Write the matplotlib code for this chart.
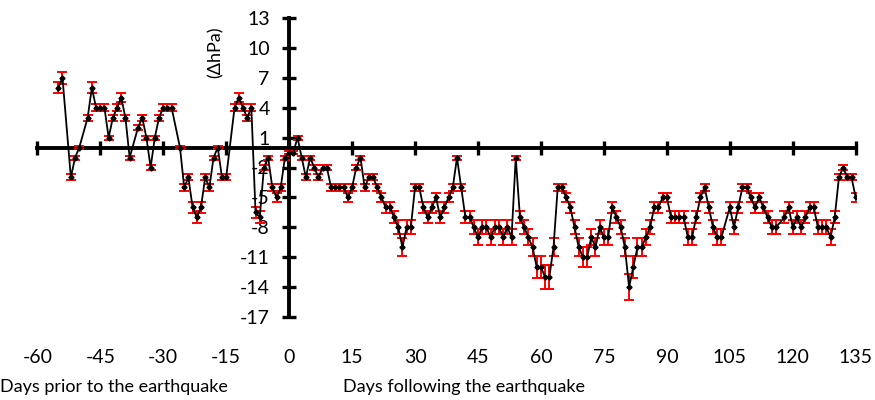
import matplotlib
matplotlib.use("Agg")
import matplotlib.pyplot as plt

# ---- data ----
pre_days = [-55, -54, -52, -51, -50, -48, -47, -46, -45, -44, -43, -42, -41, -40, -39, -38,
            -36, -35, -34, -33, -32, -31, -30, -29, -28,
            -26, -25, -24, -23, -22, -21, -20, -19, -18, -17, -16, -15,
            -13, -12, -11, -10, -9, -8, -7, -6, -5, -4, -3, -2, -1]
pre_vals = [6, 7, -3, -1, 0, 3, 6, 4, 4, 4, 1, 3, 4, 5, 3, -1,
            2, 3, 1, -2, 1, 3, 4, 4, 4,
            0, -4, -3, -6, -7, -6, -3, -4, -1, 0, -3, -3,
            4, 5, 4, 3, 4, -6.5, -7, -2, -1, -4, -5, -4, -1]
pre_err = [0.55, 0.6, 0.3, 0.2, 0.15, 0.3, 0.55, 0.35, 0.35, 0.35, 0.2, 0.3, 0.35, 0.45, 0.3, 0.2,
           0.25, 0.3, 0.2, 0.25, 0.2, 0.3, 0.35, 0.35, 0.35,
           0.15, 0.35, 0.3, 0.55, 0.6, 0.55, 0.3, 0.35, 0.2, 0.15, 0.3, 0.3,
           0.35, 0.45, 0.35, 0.3, 0.35, 0.55, 0.6, 0.25, 0.2, 0.35, 0.45, 0.35, 0.2]

post_days = list(range(0, 104)) + [105, 106, 107, 108, 109, 110, 111, 112, 113, 114, 115, 116] + \
            list(range(118, 136))
post_vals = [-0.5, -0.5, 1, -1, -3, -1, -2, -3, -2, -2,
             -4, -4, -4, -4, -5, -4, -2, -1, -4, -3,
             -3, -4, -5, -6, -6, -7, -8, -10, -8, -8,
             -4, -4, -6, -7, -6, -5, -7, -6, -5, -4,
             -1, -4, -7, -7, -8, -9, -8, -8, -9, -8,
             -8, -9, -8, -9, -1, -7, -8, -9, -10, -12,
             -12, -13, -13, -10, -4, -4, -5, -6, -8, -10,
             -11, -11, -9, -10, -8, -9, -9, -6, -7, -8,
             -10, -14, -12, -10, -10, -9, -8, -6, -6, -5,
             -5, -7, -7, -7, -7, -9, -9, -7, -5, -4,
             -6, -8, -9, -9, -6, -8, -6, -4, -4,
             -5, -6, -5, -6, -7, -8, -8, -7, -6,
             -8, -7, -8, -7, -6, -6, -8, -8, -8, -9,
             -7, -3, -2, -3, -3, -5]
post_err = [0.15, 0.15, 0.2, 0.2, 0.3, 0.2, 0.25, 0.3, 0.25, 0.25,
            0.35, 0.35, 0.35, 0.35, 0.45, 0.35, 0.25, 0.2, 0.35, 0.3,
            0.3, 0.35, 0.45, 0.55, 0.55, 0.6, 0.7, 0.9, 0.7, 0.7,
            0.35, 0.35, 0.55, 0.6, 0.55, 0.45, 0.6, 0.55, 0.45, 0.35,
            0.2, 0.35, 0.6, 0.6, 0.7, 0.8, 0.7, 0.7, 0.8, 0.7,
            0.7, 0.8, 0.7, 0.8, 0.2, 0.6, 0.7, 0.8, 0.9, 1.1,
            1.1, 1.2, 1.2, 0.9, 0.35, 0.35, 0.45, 0.55, 0.7, 0.9,
            1.0, 1.0, 0.8, 0.9, 0.7, 0.8, 0.8, 0.55, 0.6, 0.7,
            0.9, 1.3, 1.1, 0.9, 0.9, 0.8, 0.7, 0.55, 0.55, 0.45,
            0.45, 0.6, 0.6, 0.6, 0.6, 0.8, 0.8, 0.6, 0.45, 0.35,
            0.55, 0.7, 0.8, 0.8, 0.55, 0.7, 0.55, 0.35, 0.35,
            0.45, 0.55, 0.45, 0.55, 0.6, 0.7, 0.7, 0.6, 0.55,
            0.7, 0.6, 0.7, 0.6, 0.55, 0.55, 0.7, 0.7, 0.7, 0.8,
            0.6, 0.3, 0.25, 0.3, 0.3, 0.45]

x_ticks = [-60, -45, -30, -15, 0, 15, 30, 45, 60, 75, 90, 105, 120, 135]
y_ticks = [13, 10, 7, 4, 1, -2, -5, -8, -11, -14, -17]
unit_label = "(\u0394hPa)"
label_before = "Days prior to the earthquake"
label_after = "Days following the earthquake"

days = pre_days + post_days
vals = pre_vals + post_vals
errs = pre_err + post_err

plt.rcParams["font.family"] = ["Lato", "DejaVu Sans"]

fig = plt.figure(figsize=(8.75, 4), dpi=100)
ax = fig.add_axes([37.3 / 875, (400 - 317) / 400, (855.7 - 37.3) / 875, (317 - 18) / 400])

ax.errorbar(days, vals, yerr=errs, fmt="none", ecolor="red", elinewidth=1.4,
            capsize=3.5, capthick=1.4, zorder=2)
ax.plot(days, vals, color="black", lw=1.3, marker="D", ms=2.6, zorder=3)

ax.set_xlim(-60, 135)
ax.set_ylim(-17, 13)
for s in ("top", "right"):
    ax.spines[s].set_visible(False)
ax.spines["left"].set_position(("data", 0))
ax.spines["bottom"].set_position(("data", 0))
for s in ("left", "bottom"):
    ax.spines[s].set_linewidth(2.8)
    ax.spines[s].set_color("black")
    ax.spines[s].set_zorder(1)

ax.set_xticks(x_ticks)
ax.set_xticklabels([str(t) for t in x_ticks])
ax.set_yticks(y_ticks)
ax.set_yticklabels([str(t) for t in y_ticks])
ax.tick_params(axis="x", direction="inout", length=10, width=2.4, pad=140, labelsize=14)
ax.tick_params(axis="y", direction="inout", length=10, width=2.4, pad=9, labelsize=14)
for t in ax.xaxis.get_major_ticks() + ax.yaxis.get_major_ticks():
    t.tick1line.set_clip_on(False)

ax.text(-17.6, 9.6, unit_label, rotation=90, ha="center", va="center", fontsize=13)

fig.text(0.0, 1 - 387 / 400, label_before, ha="left", va="center", fontsize=13)
fig.text(343 / 875, 1 - 387 / 400, label_after, ha="left", va="center", fontsize=13)

fig.savefig("out.png", dpi=100)
